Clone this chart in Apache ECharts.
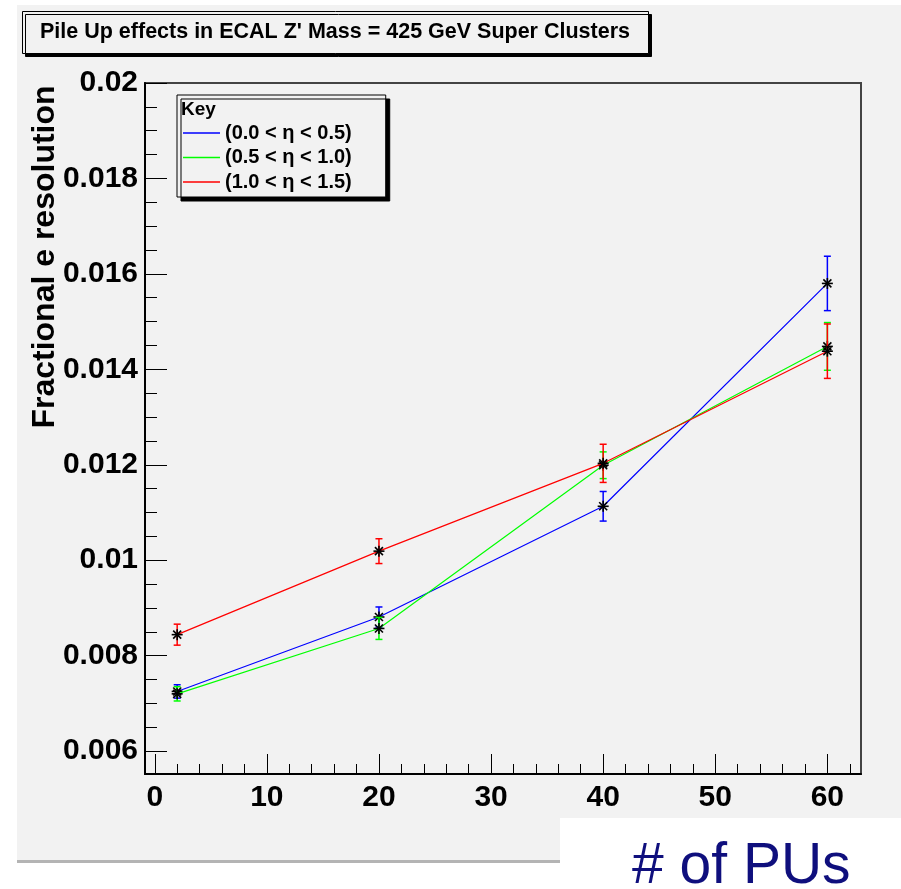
<!DOCTYPE html>
<html><head><meta charset="utf-8">
<script src="https://cdn.jsdelivr.net/npm/echarts@6/dist/echarts.min.js"></script>
<style>html,body{margin:0;padding:0;background:#fff}#c{width:901px;height:889px}</style>
</head><body><div id="c"></div>
<script>
// ---- data ----
const puValues = [2, 20, 40, 60];
const seriesNames = ['(0.0 < η < 0.5)', '(0.5 < η < 1.0)', '(1.0 < η < 1.5)'];
const seriesColors = ['#0000ff', '#00ff00', '#ff0000'];
const resEta00_05 = [0.00725, 0.00881, 0.01113, 0.0158];
const errEta00_05 = [0.00014, 0.00021, 0.00031, 0.00057];
const resEta05_10 = [0.0072, 0.00857, 0.01199, 0.01448];
const errEta05_10 = [0.00015, 0.00023, 0.00028, 0.0005];
const resEta10_15 = [0.00844, 0.01019, 0.01203, 0.01438];
const errEta10_15 = [0.00022, 0.00026, 0.0004, 0.00057];
const xMajorTicks = [0, 10, 20, 30, 40, 50, 60];
const xMinorTicks = [2, 4, 6, 8, 12, 14, 16, 18, 22, 24, 26, 28, 32, 34, 36, 38, 42, 44, 46, 48, 52, 54, 56, 58, 62];
const yMajorTicks = [0.006, 0.008, 0.01, 0.012, 0.014, 0.016, 0.018, 0.02];
const yMinorTicks = [0.0065, 0.007, 0.0075, 0.0085, 0.009, 0.0095, 0.0105, 0.011, 0.0115, 0.0125, 0.013, 0.0135, 0.0145, 0.015, 0.0155, 0.0165, 0.017, 0.0175, 0.0185, 0.019, 0.0195];
const titleText = "Pile Up effects in ECAL Z' Mass = 425 GeV Super Clusters";
const yTitle = 'Fractional e resolution';
const xTitle = '# of PUs';

const resAll = [resEta00_05, resEta05_10, resEta10_15];
const errAll = [errEta00_05, errEta05_10, errEta10_15];

const FONT = '"Liberation Sans", Arial, Helvetica, sans-serif';
const X_MIN = -0.87, X_MAX = 63, Y_MIN = 0.00552, Y_MAX = 0.02;
const gridBox = {left: 145, top: 83, width: 716, height: 691};

function makeErrRender(color) {
  return function (params, api) {
    const x = api.value(0), y = api.value(1), e = api.value(2);
    const c = api.coord([x, y]);
    const t = api.coord([x, y + e]);
    const b = api.coord([x, y - e]);
    const cap = 3.5, m = 5.5, d = 4;
    const ls = {stroke: color, lineWidth: 1.5};
    const ms = {stroke: '#000', lineWidth: 1.6};
    return {type: 'group', children: [
      {type: 'line', shape: {x1: c[0], y1: t[1], x2: c[0], y2: b[1]}, style: ls},
      {type: 'line', shape: {x1: c[0] - cap, y1: t[1], x2: c[0] + cap, y2: t[1]}, style: ls},
      {type: 'line', shape: {x1: c[0] - cap, y1: b[1], x2: c[0] + cap, y2: b[1]}, style: ls},
      {type: 'line', shape: {x1: c[0] - m, y1: c[1], x2: c[0] + m, y2: c[1]}, style: ms},
      {type: 'line', shape: {x1: c[0], y1: c[1] - m, x2: c[0], y2: c[1] + m}, style: ms},
      {type: 'line', shape: {x1: c[0] - d, y1: c[1] - d, x2: c[0] + d, y2: c[1] + d}, style: ms},
      {type: 'line', shape: {x1: c[0] - d, y1: c[1] + d, x2: c[0] + d, y2: c[1] - d}, style: ms}
    ]};
  };
}

const series = [];
for (let i = 0; i < 3; i++) {
  series.push({
    name: seriesNames[i], type: 'line', xAxisIndex: 0, yAxisIndex: 0,
    data: puValues.map((x, j) => [x, resAll[i][j]]),
    symbol: 'none', lineStyle: {color: seriesColors[i], width: 1.2}, itemStyle: {color: seriesColors[i]},
    z: 2 + i * 2
  });
}
for (let i = 0; i < 3; i++) {
  series.push({
    name: seriesNames[i] + ' err', type: 'custom', xAxisIndex: 0, yAxisIndex: 0,
    data: puValues.map((x, j) => [x, resAll[i][j], errAll[i][j]]),
    encode: {x: 0, y: 1},
    renderItem: makeErrRender(seriesColors[i]),
    z: 3 + i * 2
  });
}

const labelStyle = {color: '#000', fontFamily: FONT, fontWeight: 'bold', fontSize: 30};

const option = {
  animation: false,
  backgroundColor: '#ffffff',
  title: {
    text: titleText, left: 22, top: 11,
    padding: [9, 19, 9, 18],
    backgroundColor: '#f2f2f2', borderColor: '#000', borderWidth: 1,
    shadowColor: '#000', shadowBlur: 0, shadowOffsetX: 3, shadowOffsetY: 3,
    textStyle: {fontFamily: FONT, fontWeight: 'bold', fontSize: 21.5, color: '#000', lineHeight: 25}
  },
  legend: {
    data: seriesNames, orient: 'vertical', left: 177, top: 95,
    padding: [28, 34, 5, 6], itemGap: 4.5, itemWidth: 37, itemHeight: 1.5, icon: 'rect',
    backgroundColor: '#f2f2f2', borderColor: '#000', borderWidth: 1,
    shadowColor: '#000', shadowBlur: 0, shadowOffsetX: 4, shadowOffsetY: 4,
    textStyle: {fontFamily: FONT, fontWeight: 'bold', fontSize: 20, color: '#000'},
    selectedMode: false
  },
  grid: [
    Object.assign({show: true, borderColor: '#444', borderWidth: 2, backgroundColor: 'transparent'}, gridBox),
    Object.assign({show: false}, gridBox)
  ],
  xAxis: [
    {type: 'value', gridIndex: 0, min: X_MIN, max: X_MAX, position: 'bottom',
     axisLine: {show: true, onZero: false, lineStyle: {color: '#000', width: 2}},
     axisTick: {show: true, inside: true, length: 20, customValues: xMajorTicks, lineStyle: {color: '#000', width: 1}},
     axisLabel: {show: true, customValues: xMajorTicks, margin: 9, ...labelStyle},
     splitLine: {show: false}},
    {type: 'value', gridIndex: 1, min: X_MIN, max: X_MAX, position: 'bottom',
     axisLine: {show: false, onZero: false},
     axisTick: {show: true, inside: true, length: 10, customValues: xMinorTicks, lineStyle: {color: '#000', width: 1}},
     axisLabel: {show: false}, splitLine: {show: false}}
  ],
  yAxis: [
    {type: 'value', gridIndex: 0, min: Y_MIN, max: Y_MAX, position: 'left',
     axisLine: {show: true, onZero: false, lineStyle: {color: '#000', width: 2}},
     axisTick: {show: true, inside: true, length: 22, customValues: yMajorTicks, lineStyle: {color: '#000', width: 1}},
     axisLabel: {show: true, customValues: yMajorTicks, margin: 7,
       formatter: v => String(+(+v).toFixed(4)), ...labelStyle},
     splitLine: {show: false}},
    {type: 'value', gridIndex: 1, min: Y_MIN, max: Y_MAX, position: 'left',
     axisLine: {show: false, onZero: false},
     axisTick: {show: true, inside: true, length: 12, customValues: yMinorTicks, lineStyle: {color: '#000', width: 1}},
     axisLabel: {show: false}, splitLine: {show: false}}
  ],
  graphic: [
    {type: 'rect', z: -100, silent: true, shape: {x: 17, y: 5, width: 884, height: 856}, style: {fill: '#f2f2f2'}},
    {type: 'rect', z: -99, silent: true, shape: {x: 17, y: 860, width: 884, height: 3}, style: {fill: '#b4b4b4'}},
    {type: 'text', z: 5, x: 181, y: 110, style: {text: 'Key', fontFamily: FONT, fontWeight: 'bold', fontSize: 19, fill: '#000', textVerticalAlign: 'middle'}},
    {type: 'text', z: 5, x: 45, y: 257, rotation: Math.PI / 2,
     style: {text: yTitle, fontFamily: FONT, fontWeight: 'bold', fontSize: 32, fill: '#000', textAlign: 'center', textVerticalAlign: 'middle'}},
    {type: 'rect', z: 20, silent: true, shape: {x: 560, y: 818, width: 341, height: 71}, style: {fill: '#ffffff'}},
    {type: 'text', z: 21, x: 632, y: 896, style: {text: xTitle, fontFamily: FONT, fontSize: 57, fill: '#0f0f7d', textVerticalAlign: 'bottom'}}
  ],
  series: series
};

const chart = echarts.init(document.getElementById('c'), null, {renderer: 'canvas'});
chart.setOption(option);
</script>
</body></html>
